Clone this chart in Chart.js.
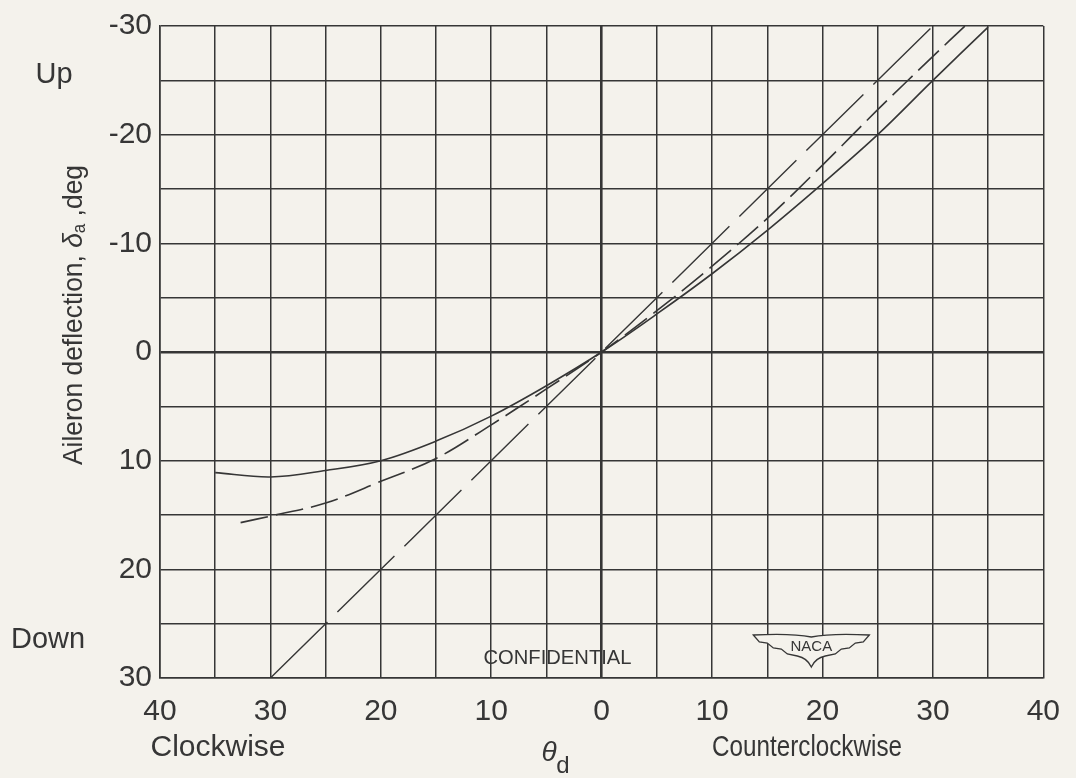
<!DOCTYPE html>
<html>
<head>
<meta charset="utf-8">
<script src="https://cdn.jsdelivr.net/npm/chart.js@4/dist/chart.umd.min.js"></script>
<style>
  html,body{margin:0;padding:0;background:#f4f2ec;}
  #wrap{width:1076px;height:778px;}
</style>
</head>
<body>
<div id="wrap"><canvas id="c" width="1076" height="778"></canvas></div>
<script>
// wheel angle theta_d (negative = clockwise) vs aileron deflection (negative = up)
const solidX  = [-35, -30, -25, -20, -15, -10, -5, 0, 5, 10, 15, 20, 25, 30, 35];
const solidY  = [11.1, 11.5, 10.9, 10.0, 8.2, 5.9, 3.1, 0, -3.5, -7.2, -11.2, -15.5, -20, -25, -29.9];
const shortX  = [-32.7, -30, -25, -20, -15, -10, -5, 0, 5, 10, 15, 20, 25, 30, 32.9];
const shortY  = [15.7, 15.1, 13.9, 11.9, 9.8, 6.7, 3.4, 0, -3.8, -7.9, -12.3, -17.2, -22.3, -27.2, -30];
const longX   = [-30, 30];
const longY   = [30, -30];
const yLabels = {'-30':'-30','-20':'-20','-10':'-10','0':'0','10':'10','20':'20','30':'30'};
const xLabels = [40, 30, 20, 10, 0, 10, 20, 30, 40];

const INK = '#363636';
const FONT = "'Liberation Sans', Arial, sans-serif";

const pts = (xs, ys) => xs.map((x,i)=>({x, y:ys[i]}));

const paper = {
  id:'paper',
  beforeDraw(chart){
    const {ctx,width,height} = chart;
    ctx.save();
    ctx.fillStyle = '#f4f2ec';
    ctx.fillRect(0,0,width,height);
    ctx.restore();
  }
};

const notes = {
  id:'notes',
  afterDraw(chart){
    const {ctx, chartArea:a, scales} = chart;
    ctx.save();
    ctx.fillStyle = INK;
    ctx.strokeStyle = INK;
    ctx.textBaseline = 'middle';
    const txt = (s, x, y, size, align, maxW) => {
      ctx.font = `${size}px ${FONT}`;
      ctx.textAlign = align || 'center';
      if(maxW) ctx.fillText(s, x, y, maxW); else ctx.fillText(s, x, y);
    };
    txt('Up', 54, 75, 29, 'center');
    txt('Down', 48, 640, 29, 'center', 74);
    txt('Clockwise', 218, 748, 30, 'center', 140);
    txt('Counterclockwise', 807, 748, 29, 'center', 190);
    // theta_d
    ctx.font = `italic 28px ${FONT}`;
    ctx.textAlign = 'center';
    ctx.fillText('\u03b8', 549, 753);
    ctx.font = `24px ${FONT}`;
    ctx.fillText('d', 563, 766);
    txt('CONFIDENTIAL', scales.x.getPixelForValue(-4), a.bottom - 20, 21, 'center', 148);

    // y axis title, rotated
    ctx.save();
    ctx.translate(74, 315);
    ctx.rotate(-Math.PI/2);
    ctx.textAlign = 'left';
    ctx.font = `28px ${FONT}`;
    const p1 = 'Aileron deflection, ';
    const w1 = ctx.measureText(p1).width;
    const p3 = ' ,deg';
    ctx.font = `italic 28px ${FONT}`;
    const wd = ctx.measureText('\u03b4').width;
    ctx.font = `18px ${FONT}`;
    const ws = ctx.measureText('a').width;
    ctx.font = `28px ${FONT}`;
    const w3 = ctx.measureText(p3).width;
    const total = w1 + wd + ws + w3;
    const k = Math.min(1, 300/total);
    ctx.scale(k, 1);
    let x0 = -total/2;
    ctx.fillText(p1, x0, 0); x0 += w1;
    ctx.font = `italic 28px ${FONT}`;
    ctx.fillText('\u03b4', x0, 0); x0 += wd;
    ctx.font = `18px ${FONT}`;
    ctx.fillText('a', x0, 6); x0 += ws;
    ctx.font = `28px ${FONT}`;
    ctx.fillText(p3, x0, 0);
    ctx.restore();

    // NACA wings emblem
    const cx = a.right - 232, cy = a.bottom - 30;
    ctx.lineWidth = 1.3;
    ctx.beginPath();
    ctx.moveTo(cx-58, cy-13);
    ctx.quadraticCurveTo(cx-20, cy-15, cx, cy-11);
    ctx.quadraticCurveTo(cx+20, cy-15, cx+58, cy-13);
    ctx.lineTo(cx+52, cy-6);
    ctx.lineTo(cx+44, cy-5);
    ctx.lineTo(cx+38, cy);
    ctx.lineTo(cx+30, cy+1);
    ctx.lineTo(cx+24, cy+6);
    ctx.lineTo(cx+14, cy+8);
    ctx.quadraticCurveTo(cx+4, cy+10, cx, cy+19);
    ctx.quadraticCurveTo(cx-4, cy+10, cx-14, cy+8);
    ctx.lineTo(cx-24, cy+6);
    ctx.lineTo(cx-30, cy+1);
    ctx.lineTo(cx-38, cy);
    ctx.lineTo(cx-44, cy-5);
    ctx.lineTo(cx-52, cy-6);
    ctx.closePath();
    ctx.fillStyle = '#f4f2ec';
    ctx.fill();
    ctx.stroke();
    ctx.fillStyle = INK;
    txt('NACA', cx, cy-1, 15, 'center', 42);
    ctx.restore();
  }
};

const chart = new Chart(document.getElementById('c'), {
  type:'line',
  data:{
    datasets:[
      {
        label:'solid',
        data:pts(solidX, solidY),
        borderColor:INK,
        borderWidth:1.6,
        pointRadius:0,
        tension:0.35,
        fill:false
      },
      {
        label:'short dash',
        data:pts(shortX, shortY),
        borderColor:INK,
        borderWidth:1.6,
        borderDash:[28, 8],
        pointRadius:0,
        tension:0.35,
        fill:false
      },
      {
        label:'long dash',
        data:pts(longX, longY),
        borderColor:INK,
        borderWidth:1.4,
        borderDash:[80, 14],
        pointRadius:0,
        fill:false
      }
    ]
  },
  options:{
    responsive:false,
    animation:false,
    layout:{padding:{top:22, right:31, left:0, bottom:0}},
    plugins:{legend:{display:false}, tooltip:{enabled:false}},
    scales:{
      x:{
        type:'linear',
        min:-40, max:40,
        afterFit:(s)=>{ s.height = 100; },
        afterBuildTicks:(s)=>{ s.ticks = []; for(let v=-40; v<=40; v+=5) s.ticks.push({value:v}); },
        grid:{
          color:INK,
          lineWidth:(c)=> c.tick && c.tick.value===0 ? 2.6 : 1.5,
          drawTicks:false
        },
        border:{display:true, color:INK, width:1.6},
        ticks:{
          color:INK,
          font:{family:FONT, size:30},
          padding:16,
          maxRotation:0,
          autoSkip:false,
          callback:(v)=> v%10===0 ? String(xLabels[(v+40)/10]) : ''
        }
      },
      y:{
        type:'linear',
        min:-30, max:30,
        reverse:true,
        afterFit:(s)=>{ s.width = 160; },
        afterBuildTicks:(s)=>{ s.ticks = []; for(let v=-30; v<=30; v+=5) s.ticks.push({value:v}); },
        grid:{
          color:INK,
          lineWidth:(c)=> c.tick && c.tick.value===0 ? 2.6 : 1.5,
          drawTicks:false
        },
        border:{display:true, color:INK, width:1.6},
        ticks:{
          color:INK,
          font:{family:FONT, size:30},
          padding:8,
          autoSkip:false,
          callback:(v)=> yLabels[String(v)] || ''
        }
      }
    }
  },
  plugins:[paper, notes]
});
</script>
</body>
</html>
